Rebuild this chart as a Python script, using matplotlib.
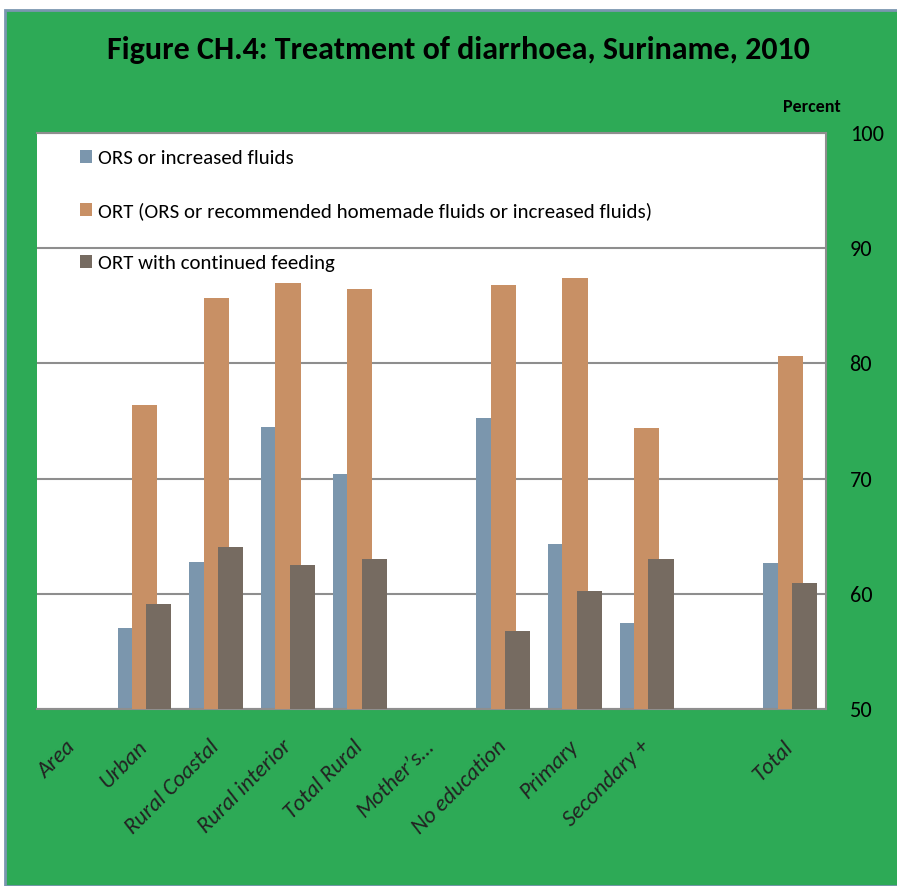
import matplotlib
matplotlib.use("Agg")
import matplotlib.pyplot as plt
from matplotlib.patches import Patch, Rectangle
import numpy as np
from matplotlib import font_manager

# Calibri-like look if a metric clone exists, otherwise Lato
_names = {f.name for f in font_manager.fontManager.ttflist}
FONT = "Carlito" if "Carlito" in _names else "Lato"
plt.rcParams["font.family"] = [FONT, "DejaVu Sans"]

categories = ["Area", "Urban", "Rural Coastal", "Rural interior", "Total Rural",
              "Mother\u2019s\u2026", "No education", "Primary", "Secondary +", "", "Total"]
ors_fluids = [np.nan, 57.0, 62.8, 74.5, 70.4, np.nan, 75.3, 64.3, 57.5, np.nan, 62.7]
ort = [np.nan, 76.4, 85.7, 87.0, 86.5, np.nan, 86.8, 87.4, 74.4, np.nan, 80.6]
ort_feeding = [np.nan, 59.1, 64.1, 62.5, 63.0, np.nan, 56.8, 60.2, 63.0, np.nan, 60.9]
series_names = ["ORS or increased fluids",
                "ORT (ORS or recommended homemade fluids or increased fluids)",
                "ORT with continued feeding"]
yticks = [50, 60, 70, 80, 90, 100]

GREEN = "#2DAA56"
BLUE = "#7B96AD"
ORANGE = "#C89065"
BROWN = "#766B61"
GRID = "#8E8E8E"

fig = plt.figure(figsize=(8.97, 8.86), dpi=100, facecolor="white")
# green panel behind the chart
fig.patches.append(Rectangle((5 / 897, 0), 1, (886 - 10) / 886, transform=fig.transFigure,
                             facecolor=GREEN, edgecolor="#7A96B0", linewidth=2, zorder=-1))

ax = fig.add_axes([37 / 897, (886 - 709) / 886, 789 / 897, 576 / 886])
ax.set_facecolor("white")

x = np.arange(len(categories))
w = 0.35
ax.bar(x - 0.2, ors_fluids, w, color=BLUE, zorder=2)
ax.bar(x, ort, w, color=ORANGE, zorder=3)
ax.bar(x + 0.2, ort_feeding, w, color=BROWN, zorder=4)

ax.set_xlim(-0.5, len(categories) - 0.5)
ax.set_ylim(50, 100)
ax.set_yticks(yticks)
ax.yaxis.tick_right()
ax.tick_params(axis="y", length=0, pad=17, labelsize=16, labelcolor="black")
ax.grid(axis="y", color=GRID, linewidth=1.5, zorder=1)
ax.set_axisbelow(True)

ax.set_xticks(x)
ax.set_xticklabels(categories, rotation=45, ha="right", va="center",
                   rotation_mode="anchor", fontsize=16.5, style="italic", color="#222222")
ax.tick_params(axis="x", length=0, pad=25)

for side in ["top", "right", "bottom"]:
    ax.spines[side].set_color(GRID)
    ax.spines[side].set_linewidth(1.5)
ax.spines["left"].set_visible(False)

handles = [Patch(facecolor=c) for c in (BLUE, ORANGE, BROWN)]
ax.legend(handles, series_names, loc="upper left", bbox_to_anchor=(0.054, 0.9705),
          frameon=False, fontsize=15, handlelength=0.58, handleheight=0.58,
          handletextpad=0.3, labelspacing=1.67, borderpad=0, borderaxespad=0)

fig.text(458 / 897, 1 - 50 / 886, "Figure CH.4: Treatment of diarrhoea, Suriname, 2010",
         ha="center", va="center", fontsize=23, fontweight="bold")
fig.text(812 / 897, 1 - 107 / 886, "Percent", ha="center", va="center",
         fontsize=13, fontweight="bold")

fig.savefig("out.png", dpi=100, facecolor=fig.get_facecolor())
